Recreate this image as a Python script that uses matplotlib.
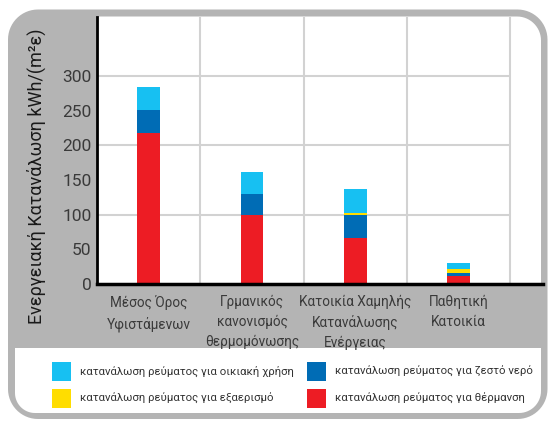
import numpy as np
import matplotlib
matplotlib.use('Agg')
import matplotlib.pyplot as plt
from matplotlib import font_manager
from matplotlib.path import Path
from matplotlib.patches import PathPatch, Rectangle

# ---------- Data ----------
categories = ['Μέσος Όρος\nΥφιστάμενων',
              'Γρμανικός\nκανονισμός\nθερμομόνωσης',
              'Κατοικία Χαμηλής\nΚατανάλωσης\nΕνέργειας',
              'Παθητική\nΚατοικία']
heating = [218, 100, 67, 12]       # θέρμανση
hot_water = [33, 30, 32, 4]        # ζεστό νερό
ventilation = [0, 0, 4, 5]         # εξαερισμός
household = [33, 32, 34, 9.5]      # οικιακή χρήση

series_labels = ['κατανάλωση ρεύματος για θέρμανση',
                 'κατανάλωση ρεύματος για ζεστό νερό',
                 'κατανάλωση ρεύματος για εξαερισμό',
                 'κατανάλωση ρεύματος για οικιακή χρήση']
series_colors = ['#ed1c24', '#006cb5', '#ffdd00', '#17c0f2']
y_ticks = [0, 50, 100, 150, 200, 250, 300]
y_label = 'Ενεργειακή Κατανάλωση kWh/(m²ε)'

# ---------- Fonts ----------
installed = {f.name for f in font_manager.fontManager.ttflist}
base = 'Liberation Sans Narrow' if 'Liberation Sans Narrow' in installed else 'Roboto'
plt.rcParams['font.family'] = [base, 'DejaVu Sans']

W, H = 548, 421
GRAY = '#b4b4b4'


def rounded_path(x0, y0, x1, y1, r_tl=0, r_tr=0, r_br=0, r_bl=0):
    # closed path in pixel coords (y downwards), one radius per corner
    pts = []

    def corner(cx, cy, r, a0, a1):
        if r == 0:
            pts.append((cx, cy))
            return
        for a in np.linspace(a0, a1, 16):
            pts.append((cx + r * np.cos(a), cy + r * np.sin(a)))
    corner(x0 + r_tl if r_tl else x0, y0 + r_tl if r_tl else y0, r_tl, np.pi, 1.5 * np.pi)
    corner(x1 - r_tr if r_tr else x1, y0 + r_tr if r_tr else y0, r_tr, 1.5 * np.pi, 2 * np.pi)
    corner(x1 - r_br if r_br else x1, y1 - r_br if r_br else y1, r_br, 0, 0.5 * np.pi)
    corner(x0 + r_bl if r_bl else x0, y1 - r_bl if r_bl else y1, r_bl, 0.5 * np.pi, np.pi)
    pts.append(pts[0])
    codes = [Path.MOVETO] + [Path.LINETO] * (len(pts) - 2) + [Path.CLOSEPOLY]
    return Path(pts, codes)


fig = plt.figure(figsize=(W / 100, H / 100), dpi=100)

# ---------- Frame (gray rounded box with white panels) ----------
bg = fig.add_axes([0, 0, 1, 1])
bg.set_xlim(0, W)
bg.set_ylim(H, 0)
bg.axis('off')
bg.add_patch(PathPatch(rounded_path(8, 9.5, 547.5, 419, 30, 30, 30, 30), fc=GRAY, ec='none'))
bg.add_patch(PathPatch(rounded_path(97, 16.5, 541, 284, 0, 24, 0, 0), fc='white', ec='none'))
bg.add_patch(PathPatch(rounded_path(15, 348, 541, 413, 0, 0, 22, 20), fc='white', ec='none'))

# ---------- Legend (2 x 2) ----------
legend_items = [(3, 52, 371.5), (1, 307, 371.5), (2, 52, 398), (0, 307, 398)]
for idx, lx, ly in legend_items:
    bg.add_patch(Rectangle((lx, ly - 9.5), 19, 19, fc=series_colors[idx], ec='none'))
    bg.text(lx + 28, ly, series_labels[idx], fontsize=8.2, color='#333333',
            va='center', ha='left')

# y label
bg.text(36, 176, y_label, rotation=90, fontsize=13, color='#1a1a1a',
        ha='center', va='center')

# ---------- Chart ----------
ax = fig.add_axes([97 / W, (H - 284) / H, (543 - 97) / W, (284 - 17) / H])
ax.set_facecolor('none')
x = np.arange(len(categories))
ax.set_xlim(-0.5, -0.5 + 446 / 103.3)
ax.set_ylim(0, 267 / 0.693)

# grid
ax.hlines([100, 200, 300], -0.5, 3.5, color='#d2d2d2', lw=1.5, zorder=1)
ax.vlines([0.5, 1.5, 2.5, 3.5], 0, 267 / 0.693, color='#d2d2d2', lw=1.5, zorder=1)

bottom = np.zeros(len(categories))
for vals, col in zip([heating, hot_water, ventilation, household], series_colors):
    ax.bar(x, vals, width=0.22, bottom=bottom, color=col, linewidth=0, zorder=2)
    bottom += np.array(vals)

for s in ['top', 'right']:
    ax.spines[s].set_visible(False)
ax.spines['left'].set_linewidth(2)
ax.spines['bottom'].set_linewidth(2.5)
ax.spines['left'].set_zorder(3)
ax.spines['bottom'].set_zorder(3)

ax.set_yticks(y_ticks)
ax.set_xticks(x)
ax.set_xticklabels(categories, linespacing=1.5)
ax.tick_params(axis='y', length=0, pad=4, labelsize=12.5, labelcolor='#3a3a3a')
ax.tick_params(axis='x', length=0, pad=8, labelsize=9.8, labelcolor='#3a3a3a')

fig.savefig('out.png', dpi=100)
